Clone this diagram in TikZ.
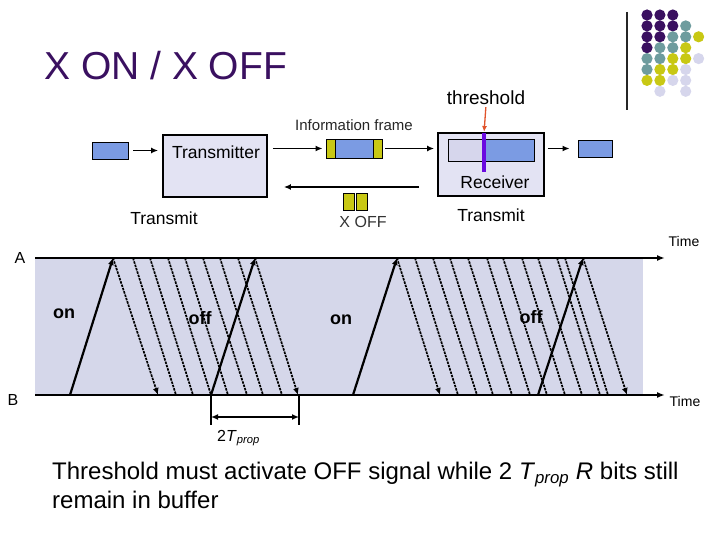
\documentclass[tikz,border=0pt]{standalone}
\usepackage{fontspec}
\setmainfont{Liberation Sans}
\usetikzlibrary{arrows.meta,calc,positioning}
\definecolor{Plum}{HTML}{3A1060}
\definecolor{Sea}{HTML}{6E9C9E}
\definecolor{Olive}{HTML}{C8C814}
\definecolor{Lilac}{HTML}{D6D6EC}
\definecolor{Panel}{HTML}{E3E3F3}
\definecolor{Band}{HTML}{D5D7EA}
\definecolor{Cornflower}{HTML}{7B9BE3}
\definecolor{Violet}{HTML}{6A0AE0}
\definecolor{Rust}{HTML}{E0532B}
\tikzset{
  station/.style={
    draw=black, line width=1.8pt, fill=Panel,
    minimum width=104pt, minimum height=62pt, inner sep=0pt
  },
  packet/.style={
    draw=black, line width=0.9pt, fill=Cornflower,
    minimum width=36pt, minimum height=17pt, inner sep=0pt
  },
  hdr/.style={
    draw=black, line width=0.9pt, fill=Olive,
    minimum width=9pt, minimum height=19pt, inner sep=0pt
  },
  bufbox/.style={
    draw=black, line width=0.9pt, fill=Cornflower,
    minimum width=86pt, minimum height=22pt, inner sep=0pt,
    path picture={\fill[Lilac] (path picture bounding box.north west)
      rectangle ([xshift=36pt]path picture bounding box.south west);}
  },
  txt/.style={inner sep=0pt, font=\fontsize{17.5}{20}\selectfont},
  small/.style={inner sep=0pt, font=\fontsize{14}{16}\selectfont},
  state/.style={inner sep=0pt, anchor=base, font=\fontsize{18}{20}\selectfont\bfseries},
  flow/.style={-{Latex[length=7pt,width=6pt]}, line width=1.5pt},
  alert/.style={-{Latex[length=6pt,width=5pt]}, line width=1.3pt, draw=Rust},
  marker/.style={line width=4pt, draw=Violet},
  axis/.style={-{Latex[length=8pt,width=6pt]}, line width=2.2pt},
  sent/.style={-{Latex[length=7pt,width=6pt]}, line width=2.2pt},
  echo/.style={line width=1.7pt, dash pattern=on 2.5pt off 1pt},
  tick/.style={line width=2pt}
}
\begin{document}
\begin{tikzpicture}[x=1pt,y=-1pt]
  \useasboundingbox (0,0) rectangle (720,540);
  % title and corner dots
  \node[anchor=base west, inner sep=0pt, text=Plum, font=\fontsize{39}{44}\selectfont] (title) at (44,80) {X ON / X OFF};
  \draw[line width=1.2pt, black!85] (627,12) -- (627,110);
  \foreach \r/\c/\col in {1/1/Plum,1/2/Plum,1/3/Plum,
      2/1/Plum,2/2/Plum,2/3/Plum,2/4/Sea,
      3/1/Plum,3/2/Plum,3/3/Sea,3/4/Sea,3/5/Olive,
      4/1/Plum,4/2/Sea,4/3/Sea,4/4/Olive,
      5/1/Sea,5/2/Sea,5/3/Olive,5/4/Olive,5/5/Lilac,
      6/1/Sea,6/2/Olive,6/3/Olive,6/4/Lilac,
      7/1/Olive,7/2/Olive,7/3/Lilac,7/4/Lilac,
      8/2/Lilac,8/4/Lilac}
    \fill[\col] ({647+12.9*(\c-1)},{15+10.9*(\r-1)}) circle (5.6pt);

  % link between the two stations
  \node[station] (tx) at (215,166) {};
  \node[station, minimum width=106pt, minimum height=63pt] (rx) at (491,164.5) {};
  \node[txt] (txname) at (216,152) {Transmitter};
  \node[txt] (rxname) at (495,182) {Receiver};
  \node[packet] (inbuf) at (110,150.5) {};
  \node[packet, minimum width=34pt] (outbuf) at (595,148.5) {};
  \node[packet, minimum width=56pt, minimum height=19pt] (frame) at (354,148.5) {};
  \node[hdr, anchor=west] (frameL) at (frame.west) {};
  \node[hdr, anchor=east] (frameR) at (frame.east) {};
  \node[small, font=\fontsize{15}{17}\selectfont, text=black!85] (frameinfo) at (354,125) {Information frame};
  \node[bufbox] (rxbuf) at (491,150) {};
  \coordinate (thrtop) at (484,133);
  \coordinate (thrbot) at (484,172);
  \draw[marker] (thrtop) -- (thrbot);
  \node[txt, font=\fontsize{19}{22}\selectfont] (threshold) at (486,98) {threshold};
  \draw[alert, shorten <=2pt, shorten >=1pt] (threshold.south) -- (thrtop);
  \draw[flow, shorten <=5pt, shorten >=4pt] (inbuf.east) -- (inbuf.east -| tx.west);
  \draw[flow, shorten <=5pt, shorten >=3pt] (frame.west -| tx.east) -- (frame.west);
  \draw[flow, shorten <=3pt, shorten >=3pt] (frame.east) -- (frame.east -| rx.west);
  \draw[flow, shorten <=3pt, shorten >=8pt] (outbuf.west -| rx.east) -- (outbuf.west);
  \draw[flow, shorten <=18pt, shorten >=16pt] ([yshift=-22.5pt]rx.west) -- ([yshift=-22.5pt]rx.west -| tx.east);
  \node[hdr, minimum width=11.5pt, minimum height=17pt] (xoffA) at (349,201.5) {};
  \node[hdr, minimum width=11.5pt, minimum height=17pt, right=0.5pt of xoffA] (xoffB) {};
  \node[small, font=\fontsize{16}{18}\selectfont, text=black!80] (xofftxt) at (363,222) {X OFF};
  \node[txt] (txsend) at (164,218.5) {Transmit};
  \node[txt] (rxsend) at (491,215) {Transmit};

  % timing between A and B
  \fill[Band] (35,258) rectangle (643,395);
  \node[state] (on1) at (64,318) {on};
  \node[state] (off1) at (200,324) {off};
  \node[state] (on2) at (341,324) {on};
  \node[state] (off2) at (531,323) {off};
  \foreach \t/\b in {133/176,150/193,168/211,185/228,203/247,220/263,238/282,
      415/458,433/477,450/493,468/512,487/530,503/547,522/565,538/582,557/600,565/608}
    \draw[echo] (\t,258) -- (\b,395);
  \foreach \t/\b in {113/158,255/298,397/440,583/627}
    \draw[echo, -{Latex[length=7pt,width=6pt]}] (\t,258) -- (\b,395);
  \foreach \b/\t in {70/113,211/255,353/397,538/583}
    \draw[sent] (\b,395) -- (\t,258);
  \coordinate (A0) at (35,258);
  \coordinate (A1) at (665,258);
  \coordinate (B0) at (35,395);
  \coordinate (B1) at (665,395);
  \draw[axis] (A0) -- (A1);
  \draw[axis] (B0) -- (B1);
  \node[txt, font=\fontsize{16}{18}\selectfont] (Aname) at (20,258) {A};
  \node[txt, font=\fontsize{16}{18}\selectfont] (Bname) at (13,400) {B};
  \node[small] (timeA) at (684,241) {Time};
  \node[small] (timeB) at (685,401) {Time};

  % 2 Tprop span
  \coordinate (s0) at (211,395);
  \coordinate (s1) at (299,395);
  \draw[tick] (s0) -- ++(0,30);
  \draw[tick] (s1) -- ++(0,30);
  \draw[tick, {Latex[length=7pt,width=6pt]}-{Latex[length=7pt,width=6pt]}] ([yshift=-22pt]s0) -- ([yshift=-22pt]s1);
  \node[inner sep=0pt, anchor=base west, font=\fontsize{16}{18}\selectfont] (span) at (217,441) {2\textit{T}\textsubscript{\textit{prop}}};

  \node[inner sep=0pt, anchor=north west, align=left, font=\fontsize{24}{29}\selectfont] (note) at (52,462)
    {Threshold must activate OFF signal while 2 \textit{T}\textsubscript{\textit{prop}} \textit{R} bits still\\remain in buffer};
\end{tikzpicture}
\end{document}
